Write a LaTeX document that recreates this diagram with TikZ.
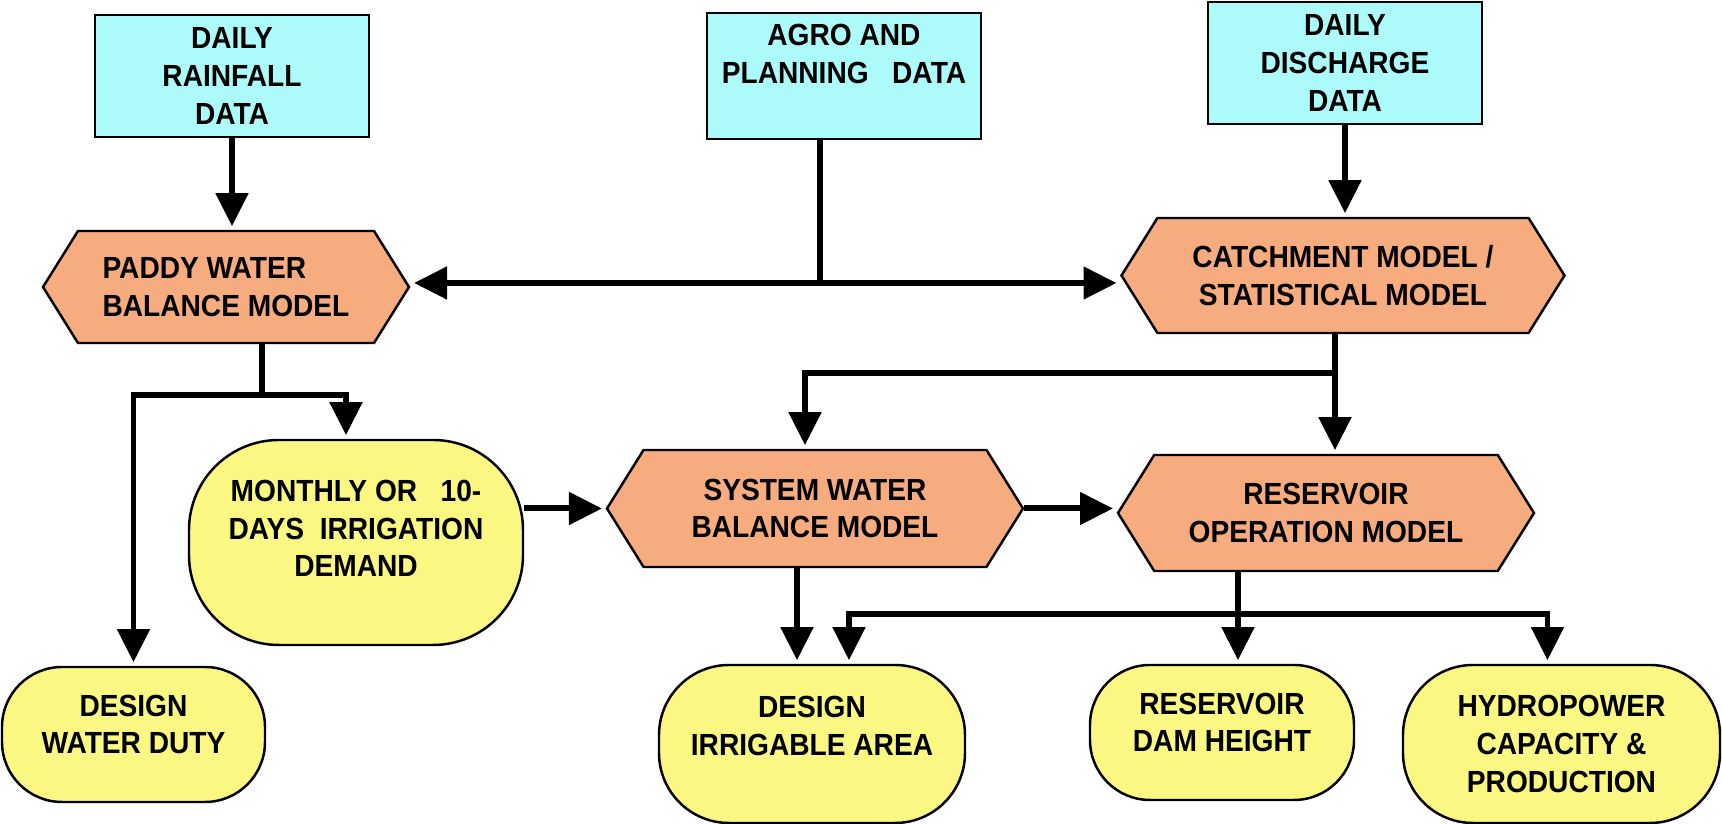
\documentclass[tikz,border=0pt]{standalone}
\usepackage{fontspec}
\setmainfont[FakeStretch=0.92]{Liberation Sans}
\usetikzlibrary{shapes.symbols}
\usetikzlibrary{arrows.meta}
\definecolor{datacyan}{RGB}{172,250,250}
\definecolor{modelorange}{RGB}{246,172,126}
\definecolor{resultyellow}{RGB}{250,248,130}
\tikzset{
	% Three node styles: input data, models and results
	data box/.style={rectangle,draw,line width=0.7pt,fill=datacyan,minimum width=2.74cm,minimum height=1.22cm,align=center},
	model hex/.style={signal,signal to=west and east,signal pointer angle=116,draw,line width=0.7pt,fill=modelorange,minimum height=1.16cm,align=center},
	result oval/.style={rectangle,rounded corners=0.6cm,draw,line width=0.7pt,fill=resultyellow,align=center},
	% connectors
	link/.style={line width=1.7pt},
	flow/.style={line width=1.7pt,-{Triangle[length=9.4pt,width=9pt]},shorten >=1pt}
}

\begin{document}
\begin{tikzpicture}[font=\fontsize{8.7}{10.7}\selectfont\bfseries]
\useasboundingbox (0,0) rectangle (17.22,-8.24);

% input data (top row)
\node(rain)[data box] at (2.32,-0.76) {DAILY\\RAINFALL\\DATA};
\node(agro)[data box] at (8.44,-0.76) {AGRO AND\\PLANNING\ \ \ DATA\\[1.8pt]\mbox{}};
\node(discharge)[data box] at (13.45,-0.63) {DAILY\\DISCHARGE\\DATA};

% models
\node(paddy)[model hex,minimum width=3.66cm,minimum height=1.12cm,align=left] at (2.26,-2.87) {PADDY WATER\\BALANCE MODEL\hspace{5pt}};
\node(catchment)[model hex,minimum width=4.43cm,minimum height=1.15cm] at (13.43,-2.755) {CATCHMENT MODEL /\\STATISTICAL MODEL};
\node(swb)[model hex,minimum width=4.16cm,minimum height=1.17cm] at (8.15,-5.085) {SYSTEM WATER\\BALANCE MODEL};
\node(rom)[model hex,minimum width=4.16cm] at (13.26,-5.13) {RESERVOIR\\OPERATION MODEL};

% results
\node(monthly)[result oval,rounded corners=0.9cm,minimum width=3.34cm,minimum height=2.05cm] at (3.56,-5.425) {MONTHLY OR\ \ \ 10-\\DAYS\ \ IRRIGATION\\DEMAND\\[-2.7pt]\mbox{}};
\node(duty)[result oval,minimum width=2.63cm,minimum height=1.35cm] at (1.335,-7.345) {DESIGN\\WATER DUTY\\[-5pt]\mbox{}};
\node(irr)[result oval,rounded corners=0.7cm,minimum width=3.06cm,minimum height=1.58cm] at (8.12,-7.44) {DESIGN\\IRRIGABLE AREA\\[-0.5pt]\mbox{}};
\node(dam)[result oval,minimum width=2.64cm,minimum height=1.35cm] at (12.22,-7.325) {RESERVOIR\\DAM HEIGHT\\[-5pt]\mbox{}};
\node(hydro)[result oval,rounded corners=0.7cm,minimum width=3.17cm,minimum height=1.58cm] at (15.615,-7.44) {HYDROPOWER\\CAPACITY \&\\PRODUCTION};

% branch points
\coordinate(agrojoin) at (8.20,-2.83);
\coordinate(paddyfork) at (2.62,-3.95);
\coordinate(catchfork) at (13.35,-3.73);
\coordinate(romfork) at (12.38,-6.14);

% data into the models
\draw[flow] (rain.south) -- (rain.south |- paddy.north);
\draw[flow] (discharge.south) -- (discharge.south |- catchment.north);
\draw[link] (agro.south -| agrojoin) -- (agrojoin);
\draw[flow] (agrojoin) -- (agrojoin -| paddy.east);
\draw[flow] (agrojoin) -- (agrojoin -| catchment.west);

% paddy model outputs
\draw[link] (paddy.south -| paddyfork) -- (paddyfork);
\draw[flow] (paddyfork) -| (duty.north);
\draw[flow] (paddyfork) -| ([xshift=-0.1cm]monthly.north);

% catchment model outputs
\draw[flow] (catchment.south -| catchfork) -- (catchfork |- rom.north);
\draw[flow] (catchfork) -| ([xshift=-0.1cm]swb.north);

% system chain
\draw[flow] (monthly.east |- swb.west) -- (swb.west);
\draw[flow] (swb.east) -- (swb.east -| rom.west);
\draw[flow] ([xshift=-0.18cm]swb.south) -- ([xshift=-0.18cm]swb.south |- irr.north);

% reservoir model outputs
\draw[link] (rom.south -| romfork) -- (romfork);
\draw[flow] (romfork) -- (romfork |- dam.north);
\draw[flow] (romfork) -| ([xshift=0.37cm]irr.north);
\draw[flow] (romfork) -| ([xshift=-0.14cm]hydro.north);

\end{tikzpicture}
\end{document}
